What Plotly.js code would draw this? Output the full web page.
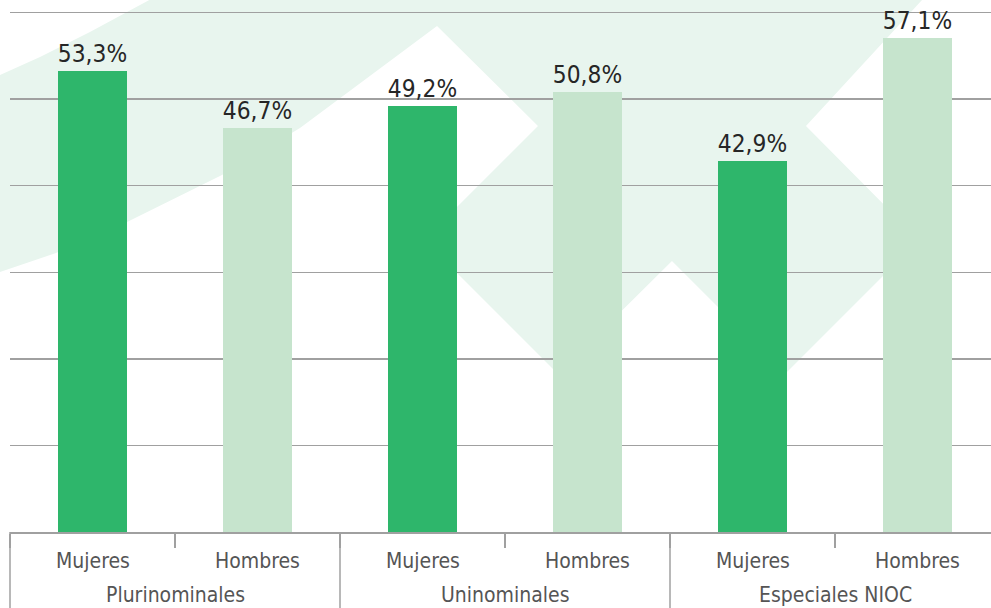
<!DOCTYPE html>
<html>
<head>
<meta charset="utf-8">
<script src="https://cdn.plot.ly/plotly-3.0.1.min.js"></script>
<style>html,body{margin:0;padding:0;background:#fff;}#chart{width:991px;height:608px;}</style>
</head>
<body>
<div id="chart"></div>
<script>
// ---- data ----
var groups = ["Plurinominales", "Plurinominales", "Uninominales", "Uninominales", "Especiales NIOC", "Especiales NIOC"];
var sexes = ["Mujeres", "Hombres", "Mujeres", "Hombres", "Mujeres", "Hombres"];
var values = [53.3, 46.7, 49.2, 50.8, 42.9, 57.1];
var groupNames = ["Plurinominales", "Uninominales", "Especiales NIOC"];
var sexColors = {"Mujeres": "#2eb66b", "Hombres": "#c6e4cd"};

// ---- layout geometry ----
var W = 991, H = 608;
var M = {l: 10, r: 0, t: 10, b: 76};
var plotW = W - M.l - M.r, plotH = H - M.t - M.b;
var groupPx = 165; // pixel width per category
var xr = [-0.5, -0.5 + plotW / groupPx];

function px(x) { return ((x - M.l) / plotW).toFixed(4); }
function py(y) { return ((H - M.b - y) / plotH).toFixed(4); }
function idxToPaper(i) { return (i - xr[0]) / (xr[1] - xr[0]); }
function pathFrom(pts) {
  return pts.map(function (p, i) { return (i ? "L" : "M") + px(p[0]) + "," + py(p[1]); }).join(" ") + " Z";
}

// background watermark (decorative logo)
var logoPts = [
  [0, 75], [40, 57], [90, 32], [153, -2], [930, -2], [922, 0],
  [806, 126], [919, 240], [785, 374], [672, 261], [558, 374],
  [424, 240], [538, 126], [437, 26], [300, 128], [222, 175],
  [127, 222], [56, 253], [0, 272]
];

var trace = {
  type: "bar",
  x: [groups, sexes],
  y: values,
  width: 0.42,
  marker: {color: sexes.map(function (s) { return sexColors[s]; })},
  texttemplate: "%{y:.1f}%",
  textposition: "outside",
  textfont: {family: "DejaVu Sans Condensed, DejaVu Sans", size: 25, color: "#262626"},
  cliponaxis: false,
  hoverinfo: "skip"
};

var labelFont = {family: "DejaVu Sans Condensed, DejaVu Sans", size: 21, color: "#555555"};
var annotations = [];
sexes.forEach(function (s, i) {
  annotations.push({xref: "paper", yref: "paper", x: idxToPaper(i), y: py(561),
    text: s, showarrow: false, xanchor: "center", yanchor: "middle", font: labelFont});
});
groupNames.forEach(function (g, k) {
  annotations.push({xref: "paper", yref: "paper", x: idxToPaper(2 * k + 0.5), y: py(595),
    text: g, showarrow: false, xanchor: "center", yanchor: "middle", font: labelFont});
});

var shapes = [{
  type: "path", xref: "paper", yref: "paper", layer: "below",
  path: pathFrom(logoPts),
  fillcolor: "#e8f5ee", line: {width: 0}
}];
for (var k = 0; k <= groupNames.length; k++) {
  var xp = idxToPaper(2 * k - 0.5);
  shapes.push({type: "line", xref: "paper", yref: "paper", x0: xp, x1: xp, y0: 0, y1: py(H + 2),
    line: {color: "#a0a0a0", width: 1.5}});
}

var layout = {
  width: W, height: H,
  margin: M,
  paper_bgcolor: "#ffffff",
  plot_bgcolor: "rgba(0,0,0,0)",
  separators: ",.",
  showlegend: false,
  bargap: 0,
  xaxis: {
    type: "multicategory",
    range: xr,
    showline: true, linecolor: "#a0a0a0", linewidth: 1.5,
    ticks: "outside", ticklen: 14, tickcolor: "#a0a0a0", tickwidth: 1.5,
    showticklabels: false, showdividers: false,
    showgrid: false, zeroline: false, fixedrange: true
  },
  yaxis: {
    range: [0, 60.3], dtick: 10,
    showticklabels: false, ticks: "",
    showgrid: true, gridcolor: "#a0a0a0", gridwidth: 1.5,
    zeroline: false, showline: false, fixedrange: true
  },
  annotations: annotations,
  shapes: shapes
};

Plotly.newPlot("chart", [trace], layout, {staticPlot: true, displayModeBar: false});
</script>
</body>
</html>
